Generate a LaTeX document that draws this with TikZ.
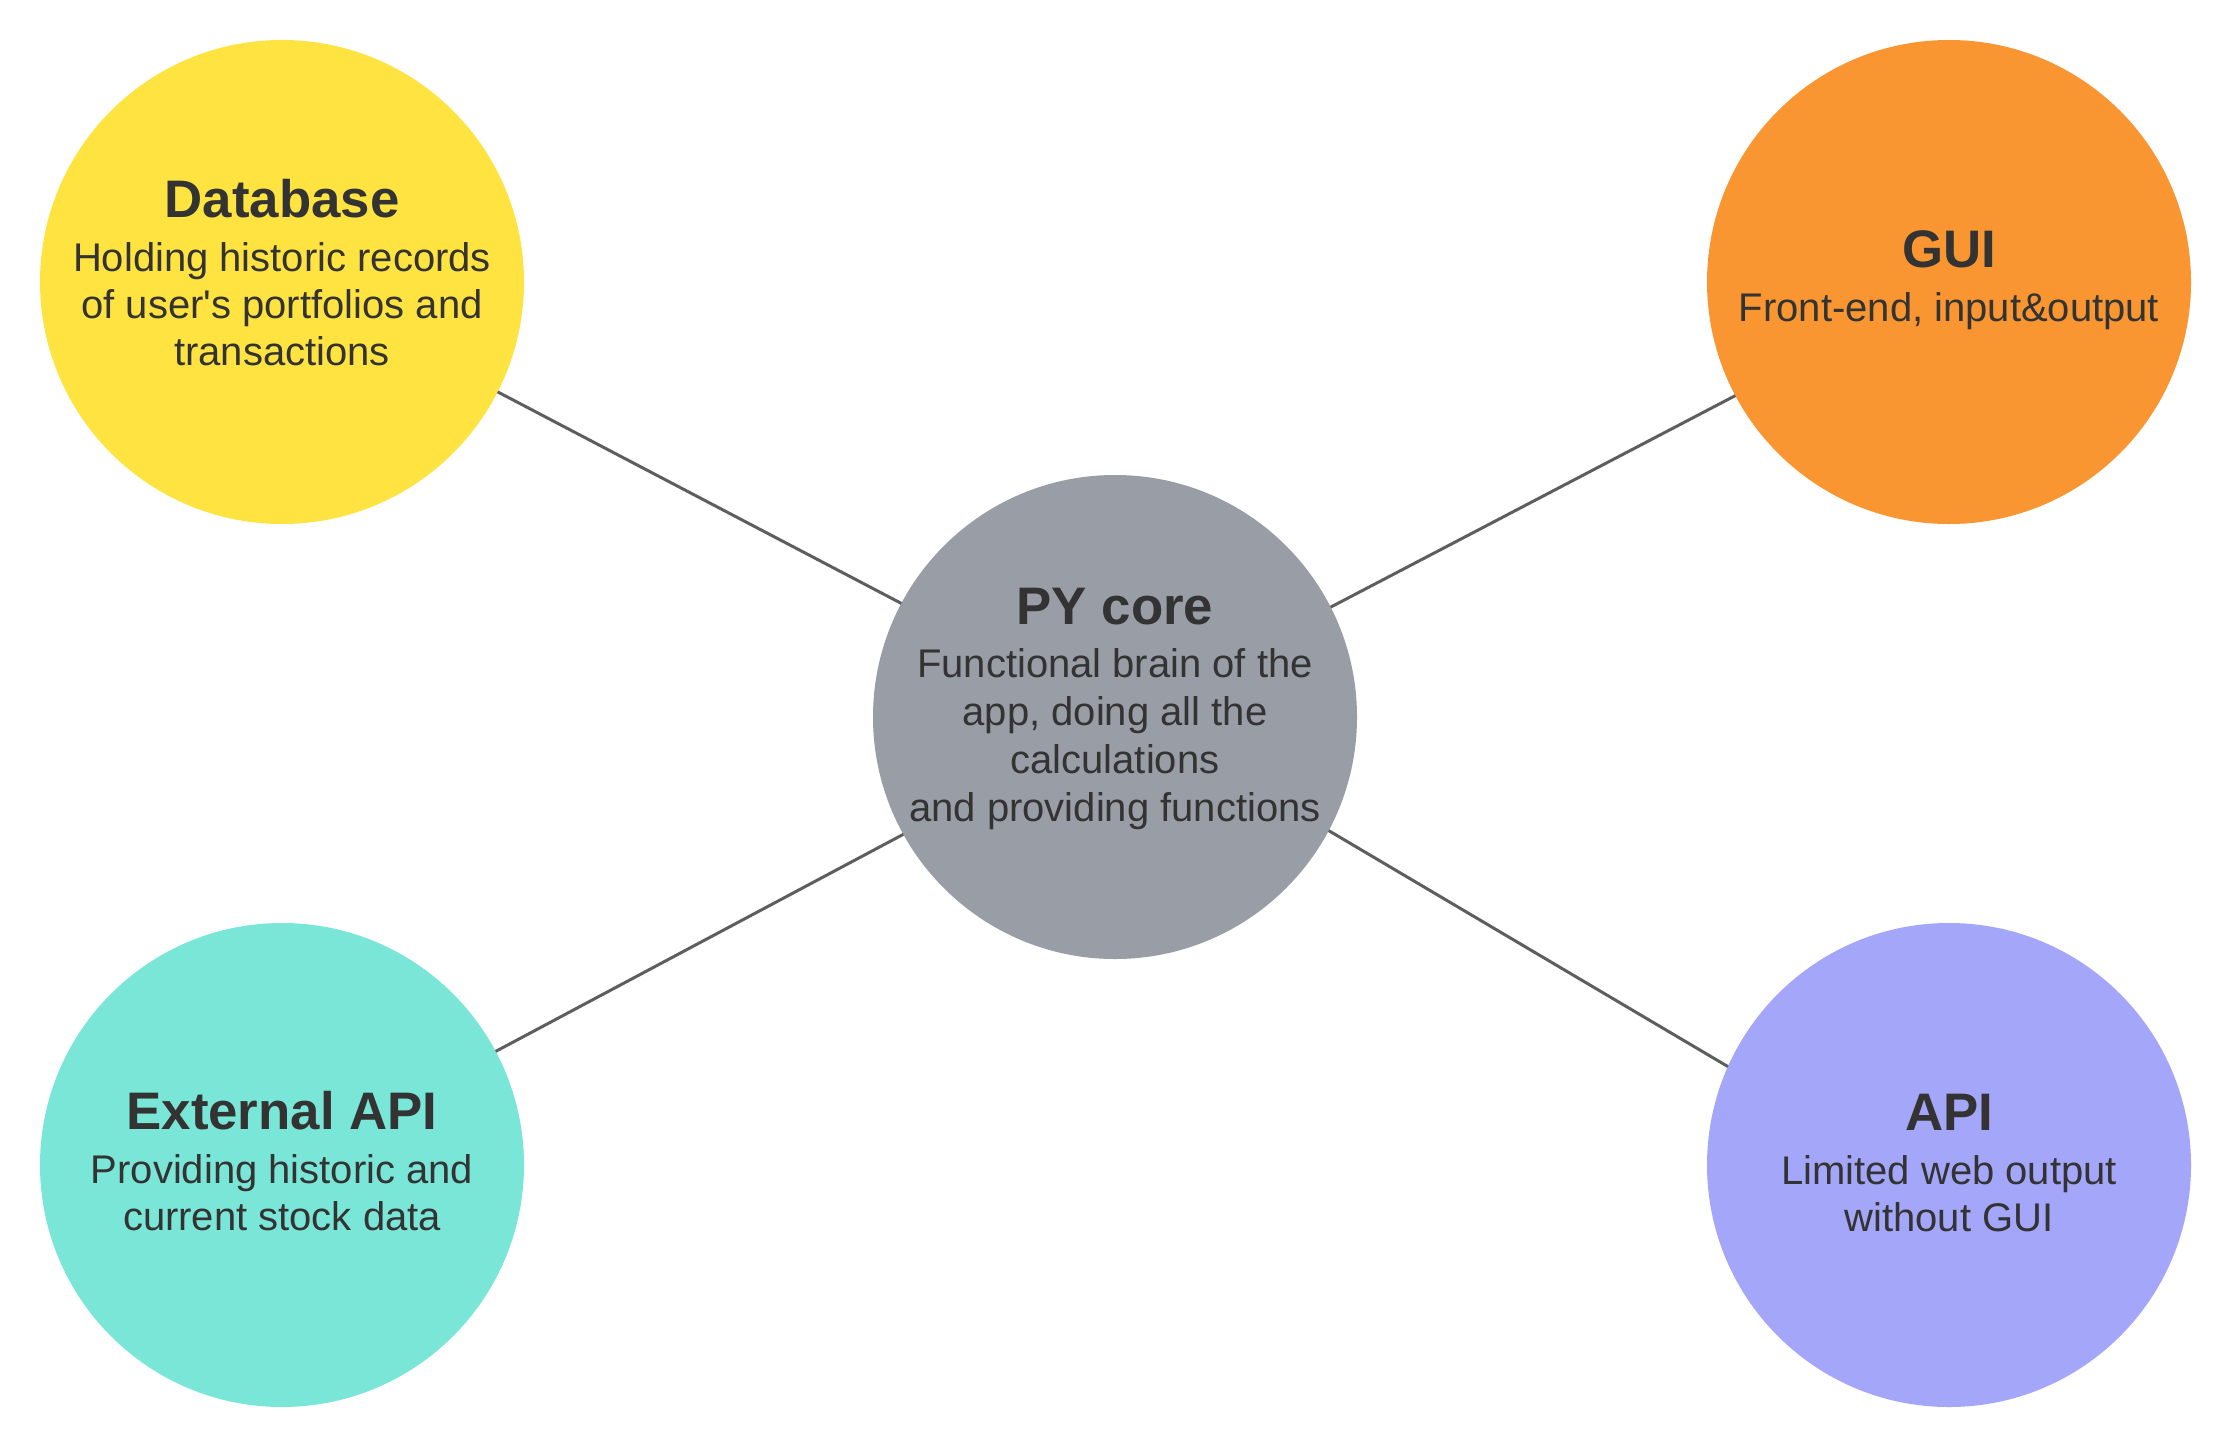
\documentclass[tikz,border=0pt]{standalone}
\usepackage{fontspec}
\setmainfont{Liberation Sans}
\definecolor{cyellow}{HTML}{FFE340}
\definecolor{corange}{HTML}{F99632}
\definecolor{cteal}{HTML}{7AE6D8}
\definecolor{clav}{HTML}{A4A6F9}
\definecolor{cgray}{HTML}{989DA6}
\definecolor{ctext}{HTML}{333333}
\definecolor{cline}{HTML}{5E5E5E}
\newcommand{\ttl}[1]{\rule{0pt}{20pt}{\fontsize{26.4}{27}\selectfont\bfseries #1}}
\begin{document}
\begin{tikzpicture}[x=0.5pt,y=-0.5pt,
  bubble/.style={circle,draw=none,inner sep=0pt,outer sep=0pt,minimum size=242pt},
  txt/.style={align=center,anchor=north,inner sep=0pt,text=ctext,
    font=\fontsize{20}{23.5}\selectfont},
  link/.style={draw=cline,line width=1.5pt}]
\useasboundingbox[fill=white] (0,0) rectangle (2231,1445);
\node[bubble,fill=cyellow] (db)   at (282,282) {};
\node[bubble,fill=corange] (gui)  at (1949,282) {};
\node[bubble,fill=cteal]   (ext)  at (282,1165) {};
\node[bubble,fill=clav]    (api)  at (1949,1165) {};
\node[bubble,fill=cgray]   (core) at (1115,717) {};
\draw[link] (core.152.5) -- (db.-27.5);
\draw[link] (core.27.7) -- (gui.-152.8);
\draw[link] (core.-151.8) -- (ext.28.7);
\draw[link] (core.-28.3) -- (api.156.5);
\node[txt] (dbt) at (282,177) {\ttl{Database}\\[3.5pt]Holding historic records\\of user\textquotesingle s portfolios and\\transactions};
\node[txt] (guit) at (1949,227) {\ttl{GUI}\\[3.5pt]Front-end, input\&output};
\node[txt] (extt) at (282,1089) {\ttl{External API}\\[3.5pt]Providing historic and\\current stock data};
\node[txt] (apit) at (1949,1090) {\ttl{API}\\[3.5pt]Limited web output\\without GUI};
\node[txt,font=\fontsize{20}{24}\selectfont] (coret) at (1115,584) {\ttl{PY core}\\[2.5pt]Functional brain of the\\app, doing all the\\calculations\\and providing functions};
\end{tikzpicture}
\end{document}
